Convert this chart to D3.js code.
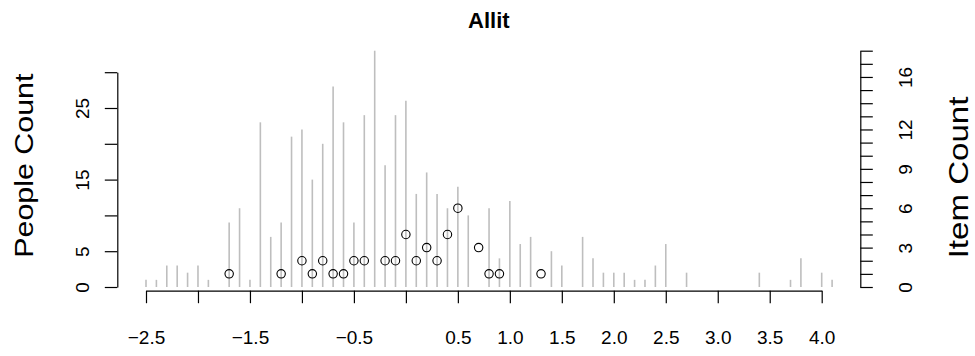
<!DOCTYPE html>
<html>
<head>
<meta charset="utf-8">
<script src="https://cdn.jsdelivr.net/npm/d3@7"></script>
<style>
  body { margin: 0; background: #fff; }
  text { font-family: "Liberation Sans", Arial, sans-serif; fill: #000; }
  .domain, .tick line { stroke: #000; stroke-width: 1.2; }
</style>
</head>
<body>
<div id="wright-map"></div>
<script>
// person ability bins (logits) and how many people fall in each
var personTheta = [-2.5, -2.4, -2.3, -2.2, -2.1, -2.0, -1.9, -1.7, -1.6, -1.5, -1.4, -1.3, -1.2, -1.1, -1.0,
    -0.9, -0.8, -0.7, -0.6, -0.5, -0.4, -0.3, -0.2, -0.1, 0.0, 0.1, 0.2, 0.3, 0.4, 0.5, 0.6, 0.8, 0.9,
    1.0, 1.1, 1.2, 1.4, 1.5, 1.7, 1.8, 1.9, 2.0, 2.1, 2.2, 2.3, 2.4, 2.5, 2.7, 3.4, 3.7, 3.8, 4.0, 4.1];
var personCount = [1, 1, 3, 3, 2, 3, 1, 9, 11, 1, 23, 7, 9, 21, 22,
    15, 20, 28, 23, 9, 24, 33, 17, 24, 26, 13, 16, 13, 11, 14, 10, 11, 4,
    12, 6, 7, 5, 3, 7, 4, 2, 2, 2, 1, 1, 3, 6, 2, 2, 1, 4, 2, 1];

// item difficulty bins and item counts
var itemTheta = [-1.7, -1.2, -1.0, -0.9, -0.8, -0.7, -0.6, -0.5, -0.4, -0.2, -0.1,
    0.0, 0.1, 0.2, 0.3, 0.4, 0.5, 0.7, 0.8, 0.9, 1.3];
var itemCount = [1, 1, 2, 1, 2, 1, 1, 2, 2, 2, 2,
    4, 2, 3, 2, 4, 6, 3, 1, 1, 1];

// axis ticks and the labels R kept (overlapping ones were dropped)
var xTicks = [-2.5, -2.0, -1.5, -1.0, -0.5, 0.0, 0.5, 1.0, 1.5, 2.0, 2.5, 3.0, 3.5, 4.0];
var xLabels = ["−2.5", "", "−1.5", "", "−0.5", "", "0.5", "1.0", "1.5", "2.0", "2.5", "3.0", "3.5", "4.0"];
var peopleTicks = [0, 5, 10, 15, 20, 25, 30];
var peopleLabels = ["0", "5", "", "15", "", "25", ""];
var itemTicks = d3.range(0, 19);
var itemLabels = ["0", "", "", "3", "", "", "6", "", "", "9", "", "", "12", "", "", "", "16", "", ""];

var chartTitle = "Allit";

function drawWrightMap() {
    var svgWidth = 975, svgHeight = 356;
    var left = 117.3, right = 860.3, baseY = 287, xAxisY = 290.7;

    var svg = d3.select("#wright-map").append("svg")
        .attr("width", svgWidth)
        .attr("height", svgHeight);

    var x = d3.scaleLinear().domain([-2.5, 4.0]).range([146, 821.7]);
    var yPeople = d3.scaleLinear().domain([0, 30]).range([baseY, 72.2]);
    var yItems = d3.scaleLinear().domain([0, 18]).range([baseY, 50.7]);

    // people histogram as thin grey spikes
    svg.append("g").selectAll("line")
        .data(personTheta)
        .enter().append("line")
        .attr("x1", function(d) { return x(d); })
        .attr("x2", function(d) { return x(d); })
        .attr("y1", yPeople(0))
        .attr("y2", function(d, i) { return yPeople(personCount[i]); })
        .style("stroke", "#bebebe")
        .style("stroke-width", 1.6);

    // item counts as open circles
    svg.append("g").selectAll("circle")
        .data(itemTheta)
        .enter().append("circle")
        .attr("cx", function(d) { return x(d); })
        .attr("cy", function(d, i) { return yItems(itemCount[i]); })
        .attr("r", 4.2)
        .style("fill", "none")
        .style("stroke", "#000")
        .style("stroke-width", 1.1);

    var tick = 12.5;

    var xAxis = svg.append("g")
        .attr("transform", "translate(0," + xAxisY + ")")
        .call(d3.axisBottom(x).tickValues(xTicks).tickSize(tick).tickSizeOuter(0)
            .tickFormat(function(d, i) { return xLabels[i]; }));
    xAxis.selectAll("text")
        .attr("y", 0)
        .attr("dy", 0)
        .attr("transform", "translate(0,53.3)")
        .style("font-size", "19px");

    var yAxisL = svg.append("g")
        .attr("transform", "translate(" + left + ",0)")
        .call(d3.axisLeft(yPeople).tickValues(peopleTicks).tickSize(tick).tickSizeOuter(0)
            .tickFormat(function(d, i) { return peopleLabels[i]; }));
    yAxisL.selectAll("text")
        .attr("x", 0)
        .attr("dy", 0)
        .attr("transform", "translate(-28,0) rotate(-90)")
        .style("text-anchor", "middle")
        .style("font-size", "19px");

    var yAxisR = svg.append("g")
        .attr("transform", "translate(" + right + ",0)")
        .call(d3.axisRight(yItems).tickValues(itemTicks).tickSize(tick).tickSizeOuter(0)
            .tickFormat(function(d, i) { return itemLabels[i]; }));
    yAxisR.selectAll("text")
        .attr("x", 0)
        .attr("dy", 0)
        .attr("transform", "translate(51.5,0) rotate(-90)")
        .style("text-anchor", "middle")
        .style("font-size", "19px");

    // titles
    svg.append("text")
        .attr("x", (left + right) / 2)
        .attr("y", 28)
        .attr("text-anchor", "middle")
        .style("font-weight", "bold")
        .style("font-size", "22px")
        .text(chartTitle);

    // axis titles look a bit wider than tall in the original, so stretch along the text
    svg.append("text")
        .attr("transform", "translate(33.3," + (74 + 257.3) / 2 + ") rotate(-90) scale(1.17,1)")
        .attr("text-anchor", "middle")
        .style("font-size", "26px")
        .text("People Count");

    svg.append("text")
        .attr("transform", "translate(968," + (96.7 + 258.3) / 2 + ") rotate(-90) scale(1.16,1)")
        .attr("text-anchor", "middle")
        .style("font-size", "28.5px")
        .text("Item Count");
}

drawWrightMap();
</script>
</body>
</html>
